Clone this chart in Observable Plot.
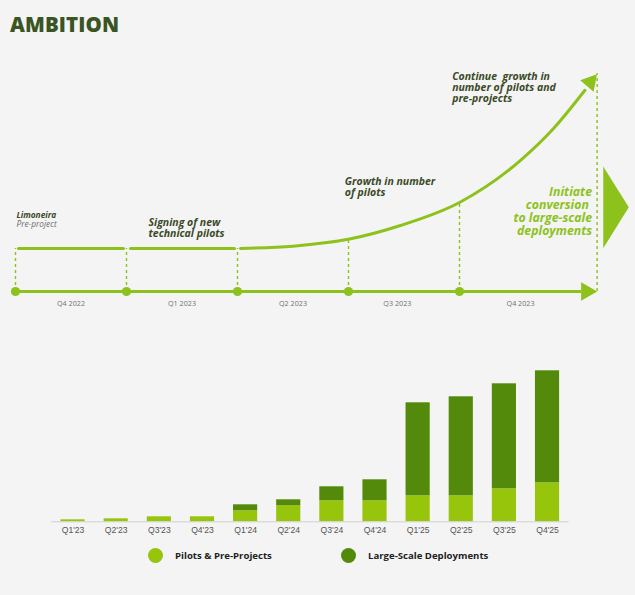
<!DOCTYPE html>
<html>
<head>
<meta charset="utf-8">
<script src="https://cdn.jsdelivr.net/npm/d3@7"></script>
<script src="https://cdn.jsdelivr.net/npm/@observablehq/plot@0.6"></script>
<style>
  html, body { margin: 0; padding: 0; background: #f4f4f4; }
  #wrap { position: relative; width: 635px; height: 595px; overflow: hidden; font-family: "Open Sans", sans-serif; }
  #wrap svg { position: absolute; left: 0; top: 0; }
  #title { position: absolute; left: 10px; top: 10px; font-size: 20.5px; font-weight: 800; color: #3a5424; letter-spacing: 0.1px; }
  .lg { position: absolute; top: 548px; display: flex; align-items: center; font-size: 9.6px; font-weight: 700; color: #1e1e1e; }
  .lg span.sw { display: inline-block; width: 15px; height: 15px; border-radius: 50%; margin-right: 12px; }
</style>
</head>
<body>
<div id="wrap">
  <div id="title">AMBITION</div>
</div>
<script>
// ---------- data ----------
const barQuarters = ["Q1'23","Q2'23","Q3'23","Q4'23","Q1'24","Q2'24","Q3'24","Q4'24","Q1'25","Q2'25","Q3'25","Q4'25"];
const pilots      = [2, 3, 5, 5, 11, 16, 21, 21, 26, 26, 33, 39];
const largeScale  = [0, 0, 0, 0, 6, 6, 14, 21, 93, 99, 105, 112];
const seriesNames = ["Pilots & Pre-Projects", "Large-Scale Deployments"];
const seriesColors = ["#97c50c", "#538a0b"];

// timeline (x = quarter index, y = ambition level)
const milestones = [0, 1, 2, 3, 4];
const milestoneTop = [1, 1, 1, 1.22, 2.07];
const periodLabels = ["Q4 2022", "Q1 2023", "Q2 2023", "Q3 2023", "Q4 2023"];
const periodLabelX = [0.5, 1.5, 2.5, 3.44, 4.55];
const axisEnd = 5.24;
const endDashTop = 5.07;
const flatSegments = [[0.027, 0.973], [1.036, 1.973]];
const curveX = [2.027, 2.5, 3.009, 3.468, 4.0, 4.55, 4.847, 5.13];
const curveY = [1.0, 1.055, 1.221, 1.535, 2.07, 3.05, 3.79, 4.68];
const arrowHeadCurve = {x: 5.178, y: 4.87, angle: 41};
const arrowHeadAxis = {x: 5.144, y: 0, angle: 90};
const bigTriangleX = [5.295, 5.295, 5.525, 5.295];
const bigTriangleY = [2.907, 1.007, 1.96, 2.907];
const noteTitle = {x: 0.009, y: 1.767, text: "Limoneira"};
const noteSub = {x: 0.009, y: 1.551, text: "Pre-project"};
const callouts = [
  {x: 1.198, y: 1.473, text: "Signing of new\ntechnical pilots"},
  {x: 2.967, y: 2.437, text: "Growth in number\nof pilots"},
  {x: 3.934, y: 4.744, text: "Continue  growth in\nnumber of pilots and\npre-projects"}
];
const conversionText = "Initiate\nconversion \nto large-scale\ndeployments";
const conversionPos = {x: 5.194, y: 1.856};

// ---------- colors ----------
const lineGreen = "#8dc21c";
const darkText = "#3a4a28";

// ---------- top timeline ----------
const curvePts = curveX.map((x, i) => ({x, y: curveY[i]}));
const triPts = bigTriangleX.map((x, i) => ({x, y: bigTriangleY[i]}));
const segPts = flatSegments.flatMap((s, k) => s.map(x => ({x, y: 1, k})));

const timelinePlot = Plot.plot({
  width: 635, height: 595,
  marginLeft: 0, marginRight: 0, marginTop: 0, marginBottom: 0,
  style: {background: "transparent", overflow: "visible"},
  x: {domain: [0, 4], range: [15, 459], axis: null},
  y: {domain: [0, 5], range: [291, 76], axis: null},
  marks: [
    Plot.ruleX(milestones, {x: d => d, y1: 0, y2: (d, i) => milestoneTop[i], stroke: lineGreen, strokeWidth: 1.4, strokeDasharray: "3,3"}),
    Plot.ruleX([axisEnd], {x: d => d, y1: 0, y2: endDashTop, stroke: lineGreen, strokeWidth: 1.4, strokeDasharray: "3,3"}),
    Plot.ruleY([0], {x1: 0, x2: 5.1, y: 0, stroke: lineGreen, strokeWidth: 3}),
    Plot.dot([arrowHeadAxis], {x: "x", y: "y", symbol: "triangle", r: 6.9, fill: lineGreen, rotate: "angle"}),
    Plot.dot(milestones, {x: d => d, y: 0, r: 4.6, fill: lineGreen}),
    Plot.line(segPts, {x: "x", y: "y", z: "k", stroke: lineGreen, strokeWidth: 3}),
    Plot.line(curvePts, {x: "x", y: "y", stroke: lineGreen, strokeWidth: 3, curve: "monotone-x"}),
    Plot.dot([arrowHeadCurve], {x: "x", y: "y", symbol: "triangle", r: 6.6, fill: lineGreen, rotate: "angle"}),
    Plot.line(triPts, {x: "x", y: "y", fill: lineGreen, stroke: "none"}),
    Plot.text(periodLabels, {x: (d, i) => periodLabelX[i], y: -0.272, text: d => d, fontSize: 7.2, fill: "#707070", fontFamily: "Open Sans"}),
    Plot.text([noteTitle], {x: "x", y: "y", text: "text", textAnchor: "start", fontStyle: "italic", fontWeight: 700, fill: darkText, fontSize: 8.3, fontFamily: "Open Sans"}),
    Plot.text([noteSub], {x: "x", y: "y", text: "text", textAnchor: "start", fontStyle: "italic", fontWeight: 400, fill: "#6f6f6f", fontSize: 8.3, fontFamily: "Open Sans"}),
    Plot.text(callouts, {x: "x", y: "y", text: "text", textAnchor: "start", fontStyle: "italic", fontWeight: 700, fill: darkText, fontSize: 10.5, lineHeight: 1.07, fontFamily: "Open Sans"}),
    Plot.text([conversionPos], {x: "x", y: "y", text: () => conversionText, textAnchor: "end", fontStyle: "italic", fontWeight: 700, fill: lineGreen, fontSize: 12.3, lineHeight: 1.06, fontFamily: "Open Sans"})
  ]
});

// ---------- bottom bars ----------
const rows = barQuarters.flatMap((q, i) => [
  {q, series: seriesNames[0], value: pilots[i]},
  {q, series: seriesNames[1], value: largeScale[i]}
]);

const barsPlot = Plot.plot({
  width: 635, height: 595,
  marginLeft: 51, marginRight: 66.4, marginTop: 361.3, marginBottom: 73.7,
  style: {background: "transparent", overflow: "visible"},
  x: {domain: barQuarters, paddingInner: 0.44, paddingOuter: 0.22, round: false, label: null},
  y: {domain: [0, 160], axis: null},
  color: {domain: seriesNames, range: seriesColors},
  marks: [
    Plot.barY(rows, {x: "q", y: "value", fill: "series"}),
    Plot.ruleY([0], {stroke: "#d0d0d0", strokeWidth: 1}),
    Plot.axisX({tickSize: 0, tickPadding: 5, fontSize: 8.6, fill: "#555", fontFamily: "Liberation Sans, Arial, sans-serif", label: null})
  ]
});

const wrap = document.getElementById("wrap");
wrap.appendChild(barsPlot);
wrap.appendChild(timelinePlot);

// ---------- legend ----------
const legendX = [148, 341];
seriesNames.forEach((name, i) => {
  const d = document.createElement("div");
  d.className = "lg";
  d.style.left = legendX[i] + "px";
  d.innerHTML = `<span class="sw" style="background:${seriesColors[i]}"></span>${name}`;
  wrap.appendChild(d);
});
</script>
</body>
</html>
